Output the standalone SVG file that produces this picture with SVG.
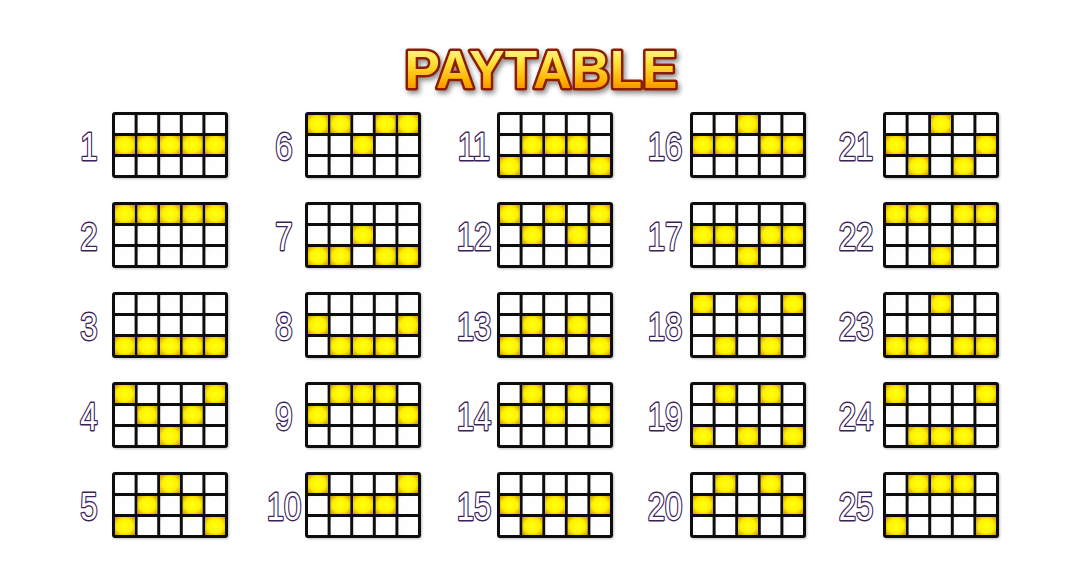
<svg xmlns="http://www.w3.org/2000/svg" xmlns:xlink="http://www.w3.org/1999/xlink" width="1084" height="568" viewBox="0 0 1084 568">
<style>
.num{font-family:"Liberation Sans",Arial,sans-serif;font-size:39px;fill:#ffffff;stroke:#3b2358;stroke-width:2.8;paint-order:stroke;stroke-linejoin:round;text-anchor:middle}
.w{fill:url(#wg)}
.y{fill:url(#yg)}
.title{font-family:"Liberation Sans",Arial,sans-serif;font-weight:bold;font-size:53px;fill:url(#tg);stroke:#8a1e00;stroke-width:5;paint-order:stroke;stroke-linejoin:round;text-anchor:middle}
</style>
<defs>
<radialGradient id="yg" cx="0.5" cy="0.5" r="0.72">
<stop offset="0" stop-color="#ffff10"/>
<stop offset="0.55" stop-color="#fff200"/>
<stop offset="1" stop-color="#cf8a00"/>
</radialGradient>
<radialGradient id="wg" cx="0.55" cy="0.55" r="0.8">
<stop offset="0" stop-color="#ffffff"/>
<stop offset="0.7" stop-color="#fdfdfd"/>
<stop offset="1" stop-color="#e4e4e4"/>
</radialGradient>
<linearGradient id="tg" x1="0" y1="0" x2="0" y2="1">
<stop offset="0" stop-color="#fffbd0"/>
<stop offset="0.35" stop-color="#ffe640"/>
<stop offset="0.7" stop-color="#ffb000"/>
<stop offset="1" stop-color="#e06a00"/>
</linearGradient>
<filter id="sh" x="-10%" y="-20%" width="130%" height="150%">
<feDropShadow dx="2" dy="3" stdDeviation="2.5" flood-color="#000" flood-opacity="0.45"/>
</filter>
<filter id="gs" x="-5%" y="-5%" width="115%" height="120%">
<feDropShadow dx="1" dy="1" stdDeviation="1" flood-color="#000" flood-opacity="0.25"/>
</filter>
<g id="base">
<rect x="0" y="0" width="116" height="66" rx="3" fill="#111"/>
<rect class="w" x="3" y="3" width="19.6" height="18"/><rect class="w" x="25.6" y="3" width="19.6" height="18"/><rect class="w" x="48.2" y="3" width="19.6" height="18"/><rect class="w" x="70.8" y="3" width="19.6" height="18"/><rect class="w" x="93.4" y="3" width="19.6" height="18"/>
<rect class="w" x="3" y="24" width="19.6" height="18"/><rect class="w" x="25.6" y="24" width="19.6" height="18"/><rect class="w" x="48.2" y="24" width="19.6" height="18"/><rect class="w" x="70.8" y="24" width="19.6" height="18"/><rect class="w" x="93.4" y="24" width="19.6" height="18"/>
<rect class="w" x="3" y="45" width="19.6" height="18"/><rect class="w" x="25.6" y="45" width="19.6" height="18"/><rect class="w" x="48.2" y="45" width="19.6" height="18"/><rect class="w" x="70.8" y="45" width="19.6" height="18"/><rect class="w" x="93.4" y="45" width="19.6" height="18"/>
</g>
<rect id="c0r0" class="y" x="3" y="3" width="19.6" height="18"/>
<rect id="c0r1" class="y" x="3" y="24" width="19.6" height="18"/>
<rect id="c0r2" class="y" x="3" y="45" width="19.6" height="18"/>
<rect id="c1r0" class="y" x="25.6" y="3" width="19.6" height="18"/>
<rect id="c1r1" class="y" x="25.6" y="24" width="19.6" height="18"/>
<rect id="c1r2" class="y" x="25.6" y="45" width="19.6" height="18"/>
<rect id="c2r0" class="y" x="48.2" y="3" width="19.6" height="18"/>
<rect id="c2r1" class="y" x="48.2" y="24" width="19.6" height="18"/>
<rect id="c2r2" class="y" x="48.2" y="45" width="19.6" height="18"/>
<rect id="c3r0" class="y" x="70.8" y="3" width="19.6" height="18"/>
<rect id="c3r1" class="y" x="70.8" y="24" width="19.6" height="18"/>
<rect id="c3r2" class="y" x="70.8" y="45" width="19.6" height="18"/>
<rect id="c4r0" class="y" x="93.4" y="3" width="19.6" height="18"/>
<rect id="c4r1" class="y" x="93.4" y="24" width="19.6" height="18"/>
<rect id="c4r2" class="y" x="93.4" y="45" width="19.6" height="18"/>
</defs>
<rect width="1084" height="568" fill="#ffffff"/>
<g id="title" filter="url(#sh)"><text class="title" x="541" y="88">PAYTABLE</text></g>
<g id="connectors"></g>

<!-- column 1 -->
<g id="line1" transform="translate(112,112)"><use href="#base" filter="url(#gs)"/><use href="#c0r1"/><use href="#c1r1"/><use href="#c2r1"/><use href="#c3r1"/><use href="#c4r1"/></g>
<g id="line2" transform="translate(112,202)"><use href="#base" filter="url(#gs)"/><use href="#c0r0"/><use href="#c1r0"/><use href="#c2r0"/><use href="#c3r0"/><use href="#c4r0"/></g>
<g id="line3" transform="translate(112,292)"><use href="#base" filter="url(#gs)"/><use href="#c0r2"/><use href="#c1r2"/><use href="#c2r2"/><use href="#c3r2"/><use href="#c4r2"/></g>
<g id="line4" transform="translate(112,382)"><use href="#base" filter="url(#gs)"/><use href="#c0r0"/><use href="#c1r1"/><use href="#c2r2"/><use href="#c3r1"/><use href="#c4r0"/></g>
<g id="line5" transform="translate(112,472)"><use href="#base" filter="url(#gs)"/><use href="#c0r2"/><use href="#c1r1"/><use href="#c2r0"/><use href="#c3r1"/><use href="#c4r2"/></g>
<!-- column 2 -->
<g id="line6" transform="translate(305,112)"><use href="#base" filter="url(#gs)"/><use href="#c0r0"/><use href="#c1r0"/><use href="#c2r1"/><use href="#c3r0"/><use href="#c4r0"/></g>
<g id="line7" transform="translate(305,202)"><use href="#base" filter="url(#gs)"/><use href="#c0r2"/><use href="#c1r2"/><use href="#c2r1"/><use href="#c3r2"/><use href="#c4r2"/></g>
<g id="line8" transform="translate(305,292)"><use href="#base" filter="url(#gs)"/><use href="#c0r1"/><use href="#c1r2"/><use href="#c2r2"/><use href="#c3r2"/><use href="#c4r1"/></g>
<g id="line9" transform="translate(305,382)"><use href="#base" filter="url(#gs)"/><use href="#c0r1"/><use href="#c1r0"/><use href="#c2r0"/><use href="#c3r0"/><use href="#c4r1"/></g>
<g id="line10" transform="translate(305,472)"><use href="#base" filter="url(#gs)"/><use href="#c0r0"/><use href="#c1r1"/><use href="#c2r1"/><use href="#c3r1"/><use href="#c4r0"/></g>
<!-- column 3 -->
<g id="line11" transform="translate(497,112)"><use href="#base" filter="url(#gs)"/><use href="#c0r2"/><use href="#c1r1"/><use href="#c2r1"/><use href="#c3r1"/><use href="#c4r2"/></g>
<g id="line12" transform="translate(497,202)"><use href="#base" filter="url(#gs)"/><use href="#c0r0"/><use href="#c1r1"/><use href="#c2r0"/><use href="#c3r1"/><use href="#c4r0"/></g>
<g id="line13" transform="translate(497,292)"><use href="#base" filter="url(#gs)"/><use href="#c0r2"/><use href="#c1r1"/><use href="#c2r2"/><use href="#c3r1"/><use href="#c4r2"/></g>
<g id="line14" transform="translate(497,382)"><use href="#base" filter="url(#gs)"/><use href="#c0r1"/><use href="#c1r0"/><use href="#c2r1"/><use href="#c3r0"/><use href="#c4r1"/></g>
<g id="line15" transform="translate(497,472)"><use href="#base" filter="url(#gs)"/><use href="#c0r1"/><use href="#c1r2"/><use href="#c2r1"/><use href="#c3r2"/><use href="#c4r1"/></g>
<!-- column 4 -->
<g id="line16" transform="translate(690,112)"><use href="#base" filter="url(#gs)"/><use href="#c0r1"/><use href="#c1r1"/><use href="#c2r0"/><use href="#c3r1"/><use href="#c4r1"/></g>
<g id="line17" transform="translate(690,202)"><use href="#base" filter="url(#gs)"/><use href="#c0r1"/><use href="#c1r1"/><use href="#c2r2"/><use href="#c3r1"/><use href="#c4r1"/></g>
<g id="line18" transform="translate(690,292)"><use href="#base" filter="url(#gs)"/><use href="#c0r0"/><use href="#c1r2"/><use href="#c2r0"/><use href="#c3r2"/><use href="#c4r0"/></g>
<g id="line19" transform="translate(690,382)"><use href="#base" filter="url(#gs)"/><use href="#c0r2"/><use href="#c1r0"/><use href="#c2r2"/><use href="#c3r0"/><use href="#c4r2"/></g>
<g id="line20" transform="translate(690,472)"><use href="#base" filter="url(#gs)"/><use href="#c0r1"/><use href="#c1r0"/><use href="#c2r2"/><use href="#c3r0"/><use href="#c4r1"/></g>
<!-- column 5 -->
<g id="line21" transform="translate(883,112)"><use href="#base" filter="url(#gs)"/><use href="#c0r1"/><use href="#c1r2"/><use href="#c2r0"/><use href="#c3r2"/><use href="#c4r1"/></g>
<g id="line22" transform="translate(883,202)"><use href="#base" filter="url(#gs)"/><use href="#c0r0"/><use href="#c1r0"/><use href="#c2r2"/><use href="#c3r0"/><use href="#c4r0"/></g>
<g id="line23" transform="translate(883,292)"><use href="#base" filter="url(#gs)"/><use href="#c0r2"/><use href="#c1r2"/><use href="#c2r0"/><use href="#c3r2"/><use href="#c4r2"/></g>
<g id="line24" transform="translate(883,382)"><use href="#base" filter="url(#gs)"/><use href="#c0r0"/><use href="#c1r2"/><use href="#c2r2"/><use href="#c3r2"/><use href="#c4r0"/></g>
<g id="line25" transform="translate(883,472)"><use href="#base" filter="url(#gs)"/><use href="#c0r2"/><use href="#c1r0"/><use href="#c2r0"/><use href="#c3r0"/><use href="#c4r2"/></g>

<g id="numbers" transform="scale(0.8,1)">
<text class="num" x="111.25" y="160">1</text>
<text class="num" x="111.25" y="250">2</text>
<text class="num" x="111.25" y="340">3</text>
<text class="num" x="111.25" y="430">4</text>
<text class="num" x="111.25" y="520">5</text>
<text class="num" x="355" y="160">6</text>
<text class="num" x="355" y="250">7</text>
<text class="num" x="355" y="340">8</text>
<text class="num" x="355" y="430">9</text>
<text class="num" x="355" y="520">10</text>
<text class="num" x="592.5" y="160">11</text>
<text class="num" x="592.5" y="250">12</text>
<text class="num" x="592.5" y="340">13</text>
<text class="num" x="592.5" y="430">14</text>
<text class="num" x="592.5" y="520">15</text>
<text class="num" x="831.25" y="160">16</text>
<text class="num" x="831.25" y="250">17</text>
<text class="num" x="831.25" y="340">18</text>
<text class="num" x="831.25" y="430">19</text>
<text class="num" x="831.25" y="520">20</text>
<text class="num" x="1070" y="160">21</text>
<text class="num" x="1070" y="250">22</text>
<text class="num" x="1070" y="340">23</text>
<text class="num" x="1070" y="430">24</text>
<text class="num" x="1070" y="520">25</text>
</g>
</svg>
